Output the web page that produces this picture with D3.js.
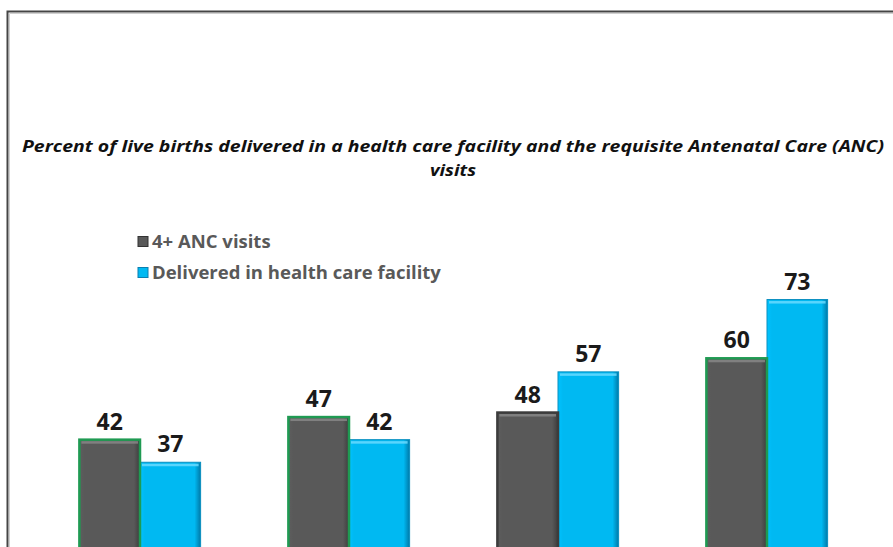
<!DOCTYPE html>
<html>
<head>
<meta charset="utf-8">
<script src="https://cdn.jsdelivr.net/npm/d3@7"></script>
<style>
  html, body { margin: 0; padding: 0; background: #fff; overflow: hidden; }
  svg { display: block; }
</style>
</head>
<body>
<svg id="chart" width="893" height="547"></svg>
<script>
'use strict';

// data
var categories = ["Group 1", "Group 2", "Group 3", "Group 4"];
var seriesNames = ["4+ ANC visits", "Delivered in health care facility"];
var ancVisits = [42, 47, 48, 60];
var facilityDelivery = [37, 42, 57, 73];

var titleLines = [
   "Percent of live births delivered in a health care facility and the requisite Antenatal Care (ANC)",
   "visits"
];

// styles
var darkFill = "#595959";
var blueFill = "#00b9f2";
var ancOutline = ["#1f9a52", "#1f9a52", "#3c3c3c", "#1f9a52"];

var svg = d3.select("#chart");
var width = 893, height = 547;

var defs = svg.append("defs");

function bevel(id, base, dark) {
   var g = defs.append("linearGradient").attr("id", id)
      .attr("x1", "0%").attr("x2", "100%").attr("y1", "0%").attr("y2", "0%");
   g.append("stop").attr("offset", "0%").attr("stop-color", d3.color(base).brighter(0.15));
   g.append("stop").attr("offset", "8%").attr("stop-color", base);
   g.append("stop").attr("offset", "90%").attr("stop-color", base);
   g.append("stop").attr("offset", "100%").attr("stop-color", dark);
}
bevel("gradDark", darkFill, "#3d3d3d");
bevel("gradBlue", blueFill, "#0079a8");

// frame
svg.append("path")
   .attr("d", "M7.5," + height + "V11.5H" + width)
   .attr("fill", "none").attr("stroke", "#454545").attr("stroke-width", 2);
svg.append("path")
   .attr("d", "M9.5," + height + "V13.5H" + width)
   .attr("fill", "none").attr("stroke", "#d0d0d0").attr("stroke-width", 1);

// title
svg.selectAll(".title")
   .data(titleLines)
   .enter().append("text")
   .attr("class", "title")
   .attr("x", 453)
   .attr("y", function(d, i) { return 152 + i * 24; })
   .attr("text-anchor", "middle")
   .attr("textLength", function(d, i) { return i === 0 ? 862 : 46; })
   .attr("lengthAdjust", "spacingAndGlyphs")
   .style("font-family", "'Open Sans', 'DejaVu Sans', sans-serif")
   .style("font-weight", "bold")
   .style("font-style", "italic")
   .style("font-size", "15.5px")
   .style("fill", "#111")
   .text(function(d) { return d; });

// scales
var x0 = d3.scaleBand()
   .domain(categories)
   .range([35.5, 871.5])
   .paddingInner(0.42)
   .paddingOuter(0.21);

var x1 = d3.scaleBand()
   .domain(seriesNames)
   .range([0, x0.bandwidth()]);

var y = d3.scaleLinear()
   .domain([0, 73])
   .range([629.5, 629.5 - 73 * 4.52]);

var rows = categories.map(function(c, i) {
   return { cat: c, i: i, values: [ancVisits[i], facilityDelivery[i]] };
});

var groups = svg.selectAll(".group")
   .data(rows)
   .enter().append("g")
   .attr("class", "group")
   .attr("transform", function(d) { return "translate(" + x0(d.cat) + ",0)"; });

var bars = groups.selectAll(".bar")
   .data(function(d) {
      return d.values.map(function(v, k) { return { key: seriesNames[k], k: k, v: v, i: d.i }; });
   })
   .enter().append("g").attr("class", "bar");

// blue first so dark bar outline sits on top
bars.sort(function(a, b) { return b.k - a.k; });

bars.append("rect")
   .attr("x", function(d) { return x1(d.key); })
   .attr("y", function(d) { return y(d.v); })
   .attr("width", x1.bandwidth())
   .attr("height", function(d) { return y(0) - y(d.v); })
   .attr("fill", function(d) { return d.k === 0 ? "url(#gradDark)" : "url(#gradBlue)"; })
   .attr("stroke", function(d) { return d.k === 0 ? ancOutline[d.i] : "#0a8fc0"; })
   .attr("stroke-width", function(d) { return d.k === 0 ? 2.5 : 1; });

// light top edge
bars.append("rect")
   .attr("x", function(d) { return x1(d.key) + 2; })
   .attr("y", function(d) { return y(d.v) + 1.5; })
   .attr("width", x1.bandwidth() - 4)
   .attr("height", 2.5)
   .attr("fill", function(d) { return d.k === 0 ? "#8a8a8a" : "#6fdcff"; })
   .attr("opacity", 0.8);

// value labels
bars.append("text")
   .attr("x", function(d) { return x1(d.key) + x1.bandwidth() / 2; })
   .attr("y", function(d) { return y(d.v) - 10; })
   .attr("text-anchor", "middle")
   .style("font-family", "'Open Sans', 'DejaVu Sans', sans-serif")
   .style("font-weight", "bold")
   .style("font-size", "23px")
   .style("fill", "#1a1a1a")
   .text(function(d) { return d.v; });

// legend
var legendColors = [darkFill, blueFill];
var legend = svg.selectAll(".legend")
   .data(seriesNames)
   .enter().append("g")
   .attr("class", "legend")
   .attr("transform", function(d, i) { return "translate(138," + (236.5 + i * 31) + ")"; });

legend.append("rect")
   .attr("width", 10).attr("height", 10)
   .attr("fill", function(d, i) { return legendColors[i]; })
   .attr("stroke", function(d, i) { return i === 0 ? "#333" : "#0a7fb0"; })
   .attr("stroke-width", 1);

legend.append("text")
   .attr("x", 14)
   .attr("y", 11)
   .style("font-family", "'Open Sans', 'DejaVu Sans', sans-serif")
   .style("font-weight", "bold")
   .style("font-size", "18.5px")
   .style("fill", "#595959")
   .text(function(d) { return d; });
</script>
</body>
</html>
